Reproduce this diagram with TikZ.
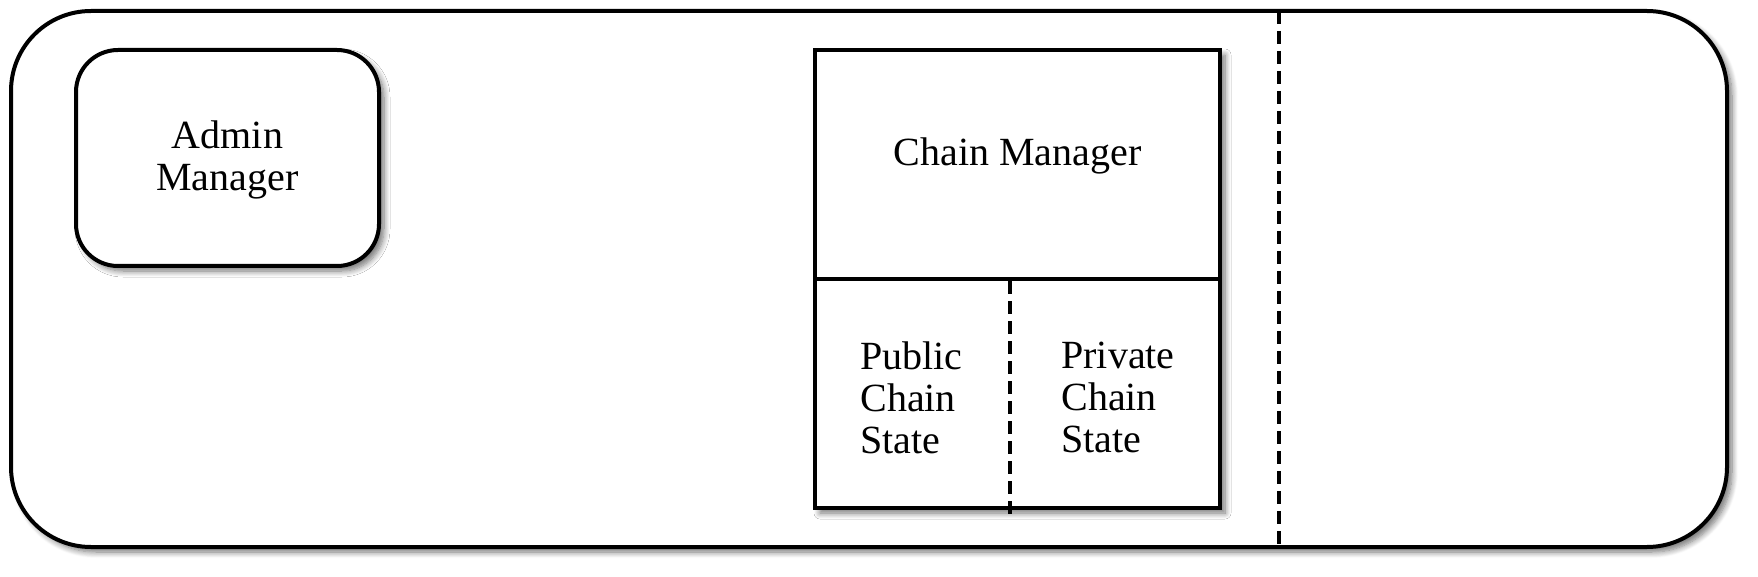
\documentclass[tikz,border=0pt]{standalone}
\usepackage{fontspec}
\setmainfont{Liberation Serif}
\usetikzlibrary{positioning,shadows.blur}

\begin{document}
\begin{tikzpicture}[x=1pt, y=1pt, line width=4pt,
    font=\fontsize{40}{42}\selectfont,
    shade/.style={blur shadow={shadow xshift=5pt, shadow yshift=-5pt, shadow blur steps=8, shadow blur radius=6pt, shadow opacity=55}},
    roundbox/.style={draw, fill=white, shade, rounded corners=42pt, align=center, inner sep=0pt},
    part/.style={minimum height=229pt, inner sep=0pt},
    cut/.style={dashed, dash pattern=on 13pt off 7pt}]
    \useasboundingbox (0,0) rectangle (1758,-577);
    \node (frame) [roundbox, rounded corners=80pt, minimum width=1716pt, minimum height=536pt] at (869,-279) {};
    \node (admin) [roundbox, minimum width=303pt, minimum height=216pt, text depth=4pt] at (227.5,-158) {Admin\\Manager};
    \node (block) [draw, fill=white, shade, minimum width=405pt, minimum height=458pt, inner sep=0pt] at (1017.5,-279) {};
    \node (chain) [part, draw, minimum width=405pt, text depth=26pt] at (1017.5,-164.5) {Chain Manager};
    \node (public) [part, align=left, minimum width=193pt, below=0pt of chain.south west, anchor=north west] {Public\\Chain\\State};
    \node (private) [part, align=left, minimum width=212pt, right=0pt of public] {Private\\Chain\\State};
    \coordinate (top) at (1279,-11);
    \coordinate (bottom) at (1279,-547);
    \draw[cut] (public.north east) -- (public.south east);
    \draw[cut] (top) -- (bottom);
\end{tikzpicture}
\end{document}
